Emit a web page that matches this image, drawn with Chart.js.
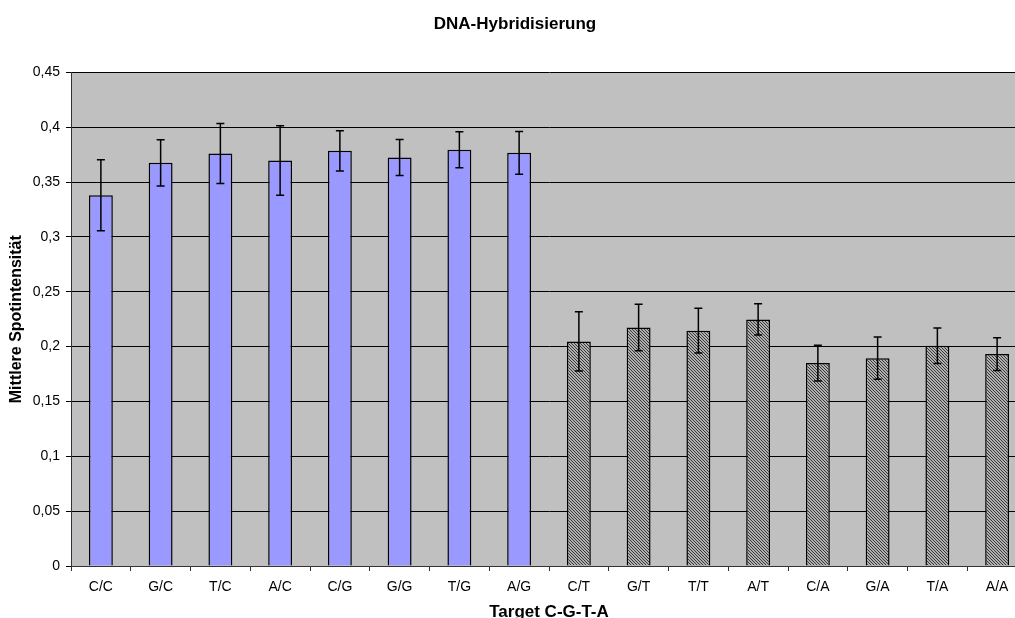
<!DOCTYPE html>
<html>
<head>
<meta charset="utf-8">
<title>DNA-Hybridisierung</title>
<script src="https://cdn.jsdelivr.net/npm/chart.js@4.4.1/dist/chart.umd.min.js"></script>
<style>
    html, body { margin: 0; padding: 0; overflow: hidden; background: #fff; }
    canvas { display: block; }
</style>
</head>
<body>
<canvas id="hybChart" width="1032" height="624"></canvas>
<script>
// values
const categories = ['C/C', 'G/C', 'T/C', 'A/C', 'C/G', 'G/G', 'T/G', 'A/G',
                    'C/T', 'G/T', 'T/T', 'A/T', 'C/A', 'G/A', 'T/A', 'A/A'];
const meanValues = [0.338, 0.3676, 0.376, 0.3697, 0.3785, 0.3724, 0.3794, 0.3767,
                    0.2047, 0.2175, 0.2145, 0.2248, 0.185, 0.1895, 0.2008, 0.1932];
const errValues = [0.0324, 0.0211, 0.0274, 0.0317, 0.0183, 0.0165, 0.0164, 0.0195,
                   0.027, 0.0212, 0.0204, 0.0143, 0.0163, 0.0193, 0.0161, 0.015];
const yTicks = [0, 0.05, 0.1, 0.15, 0.2, 0.25, 0.3, 0.35, 0.4, 0.45];

const fontName = "'Liberation Sans', Arial, sans-serif";

// fine diagonal hatching for the mismatch bars
function makeHatch() {
    const tile = document.createElement('canvas');
    tile.width = 3;
    tile.height = 3;
    const t = tile.getContext('2d');
    t.fillStyle = '#b0b0b0';
    t.fillRect(0, 0, 3, 3);
    t.fillStyle = '#383838';
    for (let x = 0; x < 3; x++) {
        for (let y = 0; y < 3; y++) {
            if ((x - y + 3) % 3 === 0) t.fillRect(x, y, 1, 1);
        }
    }
    return document.getElementById('hybChart').getContext('2d').createPattern(tile, 'repeat');
}

const hatch = makeHatch();
const barColors = categories.map((c, i) => i < 8 ? '#9999ff' : hatch);

const plotBackground = {
    id: 'plotBackground',
    beforeDraw(chart) {
        const { ctx, chartArea } = chart;
        ctx.save();
        ctx.fillStyle = '#c0c0c0';
        ctx.fillRect(chartArea.left, chartArea.top, chartArea.right - chartArea.left, chartArea.bottom - chartArea.top);
        ctx.restore();
    }
};

const errorBars = {
    id: 'errorBars',
    afterDatasetsDraw(chart) {
        const ctx = chart.ctx;
        const x = chart.scales.x;
        const y = chart.scales.y;
        ctx.save();
        ctx.strokeStyle = '#000';
        ctx.lineWidth = 1.5;
        meanValues.forEach((v, i) => {
            const px = x.getPixelForValue(i);
            const top = y.getPixelForValue(v + errValues[i]);
            const bot = y.getPixelForValue(v - errValues[i]);
            ctx.beginPath();
            ctx.moveTo(px, top);
            ctx.lineTo(px, bot);
            ctx.moveTo(px - 4, top);
            ctx.lineTo(px + 4, top);
            ctx.moveTo(px - 4, bot);
            ctx.lineTo(px + 4, bot);
            ctx.stroke();
        });
        ctx.restore();
    }
};

const ctx = document.getElementById('hybChart').getContext('2d');
new Chart(ctx, {
    type: 'bar',
    data: {
        labels: categories,
        datasets: [{
            label: 'Mittlere Spotintensität',
            data: meanValues,
            backgroundColor: barColors,
            borderColor: '#000',
            borderWidth: 1.5,
            barPercentage: 0.4,
            categoryPercentage: 1
        }]
    },
    options: {
        responsive: false,
        animation: false,
        layout: {
            padding: { left: 3, right: 5, top: 0, bottom: 0 }
        },
        plugins: {
            legend: { display: false },
            tooltip: { enabled: false },
            title: {
                display: true,
                text: 'DNA-Hybridisierung',
                color: '#000',
                font: { family: fontName, size: 17, weight: 'bold' },
                padding: { top: 14, bottom: 38 }
            }
        },
        scales: {
            x: {
                afterFit(scale) { scale.height = 58; },
                grid: {
                    display: true,
                    drawOnChartArea: false,
                    drawTicks: true,
                    tickLength: 5,
                    color: '#333',
                    offset: true
                },
                border: { color: '#333', width: 1 },
                ticks: {
                    color: '#000',
                    padding: 8,
                    maxRotation: 0,
                    autoSkip: false,
                    font: { family: fontName, size: 14 }
                },
                title: {
                    display: true,
                    text: 'Target C-G-T-A',
                    color: '#000',
                    font: { family: fontName, size: 17, weight: 'bold' },
                    padding: { top: 0, bottom: 1 }
                }
            },
            y: {
                min: 0,
                max: 0.45,
                afterFit(scale) { scale.width = 68; },
                afterBuildTicks(scale) {
                    scale.ticks = yTicks.map(v => ({ value: v }));
                },
                grid: {
                    color: '#000',
                    lineWidth: 1,
                    drawTicks: true,
                    tickLength: 5
                },
                border: { color: '#333', width: 1 },
                ticks: {
                    color: '#000',
                    padding: 6,
                    font: { family: fontName, size: 14 },
                    callback: v => String(Math.round(v * 100) / 100).replace('.', ',')
                },
                title: {
                    display: true,
                    text: 'Mittlere Spotintensität',
                    color: '#000',
                    font: { family: fontName, size: 16, weight: 'bold' },
                    padding: { top: 4, bottom: 4 }
                }
            }
        }
    },
    plugins: [plotBackground, errorBars]
});
</script>
</body>
</html>
